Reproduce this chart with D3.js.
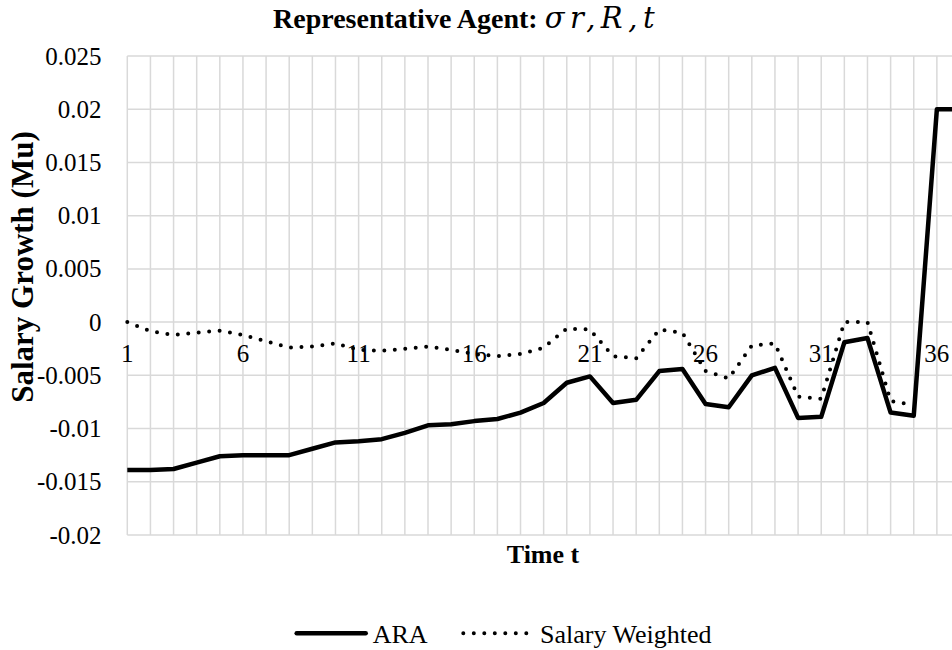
<!DOCTYPE html>
<html>
<head>
<meta charset="utf-8">
<script src="https://cdn.jsdelivr.net/npm/d3@7"></script>
<style>
  body { margin: 0; background: #fff; }
  svg text { font-family: "Liberation Serif", "Times New Roman", Times, serif; }
</style>
</head>
<body>
<svg width="952" height="650"></svg>
<script>
// Time periods (category axis)
const periods = [1, 2, 3, 4, 5, 6, 7, 8, 9, 10, 11, 12, 13, 14, 15, 16, 17, 18, 19, 20,
                 21, 22, 23, 24, 25, 26, 27, 28, 29, 30, 31, 32, 33, 34, 35, 36, 37];
const tickPeriods = [1, 6, 11, 16, 21, 26, 31, 36];
const yTicks = [0.025, 0.02, 0.015, 0.01, 0.005, 0, -0.005, -0.01, -0.015, -0.02];
const yTickLabels = ["0.025", "0.02", "0.015", "0.01", "0.005", "0", "-0.005", "-0.01", "-0.015", "-0.02"];

// Series values
const ara = [-0.0139, -0.0139, -0.0138, -0.0132, -0.0126, -0.0125, -0.0125, -0.0125, -0.0119, -0.0113,
             -0.0112, -0.0110, -0.0104, -0.0097, -0.0096, -0.0093, -0.0091, -0.0085, -0.0076, -0.0057,
             -0.0051, -0.0076, -0.0073, -0.0046, -0.0044, -0.0077, -0.0080, -0.0050, -0.0043, -0.0090,
             -0.0089, -0.0019, -0.0015, -0.0085, -0.0088, 0.0200, 0.0200];
const salaryWeighted = [0.0000, -0.00085, -0.0012, -0.0010, -0.0008, -0.0012, -0.0018, -0.0024, -0.0023, -0.0020,
                        -0.0026, -0.0027, -0.0025, -0.0023, -0.0026, -0.0030, -0.0032, -0.0030, -0.0024, -0.0006,
                        -0.0007, -0.0032, -0.0034, -0.0007, -0.0010, -0.0046, -0.0053, -0.0022, -0.0020, -0.0070,
                        -0.0072, 0.0000, 0.0000, -0.0074, -0.0078];

const svg = d3.select("svg");
const W = 952;

// Scales: plot runs past the right edge of the picture
const x = d3.scalePoint().domain(periods).range([127.3, 960]);
const y = d3.scaleLinear().domain([-0.02, 0.025]).range([535, 56]);

const grid = svg.append("g").attr("stroke", "#d9d9d9").attr("stroke-width", 1.5);

// vertical gridlines at every period
grid.selectAll(".vg")
    .data(periods)
    .enter().append("line")
    .attr("x1", d => x(d)).attr("x2", d => x(d))
    .attr("y1", y(0.025)).attr("y2", y(-0.02));

// horizontal gridlines
grid.selectAll(".hg")
    .data(yTicks)
    .enter().append("line")
    .attr("x1", x(1)).attr("x2", W)
    .attr("y1", d => y(d)).attr("y2", d => y(d));

// Y tick labels
svg.append("g")
   .selectAll("text")
   .data(yTicks)
   .enter().append("text")
   .attr("x", 101.5)
   .attr("y", d => y(d))
   .attr("dy", "0.34em")
   .attr("text-anchor", "end")
   .attr("font-size", 25)
   .text((d, i) => yTickLabels[i]);

// X tick labels, sitting under the zero line
svg.append("g")
   .selectAll("text")
   .data(tickPeriods)
   .enter().append("text")
   .attr("x", d => x(d))
   .attr("y", y(0) + 40)
   .attr("text-anchor", "middle")
   .attr("font-size", 25)
   .text(d => d);

// Lines
const line = d3.line()
    .x((d, i) => x(periods[i]))
    .y(d => y(d));

svg.append("path")
   .datum(salaryWeighted)
   .attr("fill", "none")
   .attr("stroke", "#000")
   .attr("stroke-width", 4)
   .attr("stroke-linecap", "round")
   .attr("stroke-dasharray", "0 10.5")
   .attr("d", line);

svg.append("path")
   .datum(ara)
   .attr("fill", "none")
   .attr("stroke", "#000")
   .attr("stroke-width", 4.5)
   .attr("stroke-linejoin", "round")
   .attr("d", line);

// Title (math part in a wider italic, like Cambria Math)
const title = svg.append("text")
   .attr("x", 273)
   .attr("y", 28)
   .attr("font-size", 28);
title.append("tspan").attr("font-weight", "bold").text("Representative Agent: ");
title.append("tspan")
     .attr("font-style", "italic")
     .attr("font-size", 29)
     .style("font-family", "'DejaVu Serif', serif")
     .attr("letter-spacing", 5.5)
     .text("σr,R,t");

// Axis titles
svg.append("text")
   .attr("x", 543)
   .attr("y", 563)
   .attr("text-anchor", "middle")
   .attr("font-size", 26)
   .attr("font-weight", "bold")
   .text("Time t");

svg.append("text")
   .attr("transform", "translate(33,267) rotate(-90)")
   .attr("text-anchor", "middle")
   .attr("font-size", 31)
   .attr("font-weight", "bold")
   .text("Salary Growth (Mu)");

// Legend
const legendData = [
    {label: "ARA", x1: 296.7, x2: 365.7, tx: 372.7, dash: null, w: 4.5},
    {label: "Salary Weighted", x1: 463.3, x2: 531.7, tx: 540, dash: "0 10.5", w: 4}
];
const legend = svg.append("g").attr("id", "legend");
legendData.forEach(d => {
    legend.append("line")
          .attr("x1", d.x1).attr("x2", d.x2)
          .attr("y1", 633.3).attr("y2", 633.3)
          .attr("stroke", "#000")
          .attr("stroke-width", d.w)
          .attr("stroke-linecap", "round")
          .attr("stroke-dasharray", d.dash);
    legend.append("text")
          .attr("x", d.tx)
          .attr("y", 643)
          .attr("font-size", 26)
          .text(d.label);
});
</script>
</body>
</html>
